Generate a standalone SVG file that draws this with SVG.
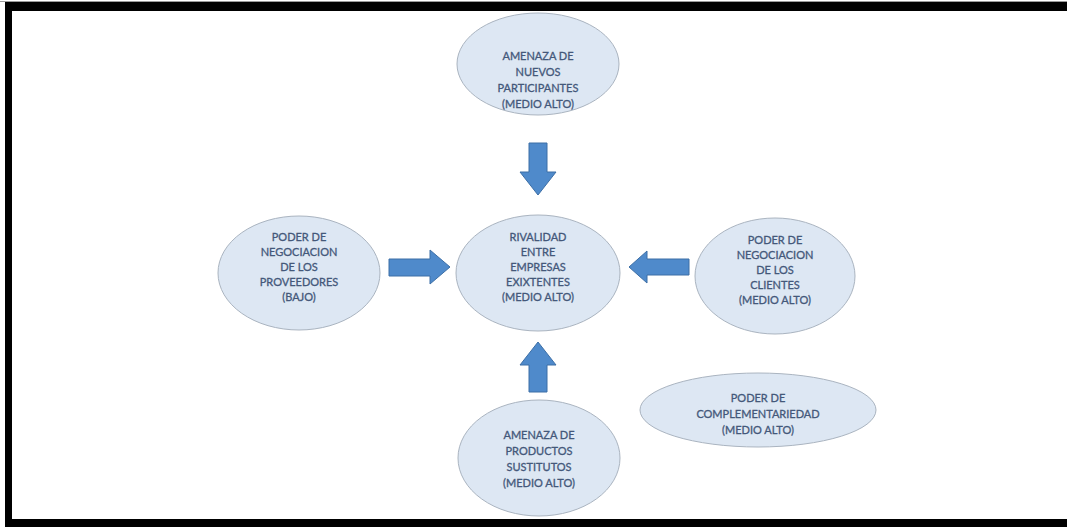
<svg xmlns="http://www.w3.org/2000/svg" width="1067" height="527" viewBox="0 0 1067 527">
  <style>
    .node ellipse { fill: #dde7f3; stroke: #aab4c0; stroke-width: 1; }
    .node text { font-family: Lato, "Open Sans", "Liberation Sans", sans-serif; font-size: 11px; fill: #44587a; stroke: #44587a; stroke-width: 0.3; text-anchor: middle; }
    .arrow { fill: #4f8acb; stroke: #3d6fa6; stroke-width: 1; }
  </style>
  <rect x="0" y="0" width="1067" height="527" fill="#ffffff"/>
  <!-- frame -->
  <rect x="5" y="2" width="1062" height="9" fill="#000000"/>
  <rect x="5" y="2" width="7" height="525" fill="#000000"/>
  <rect x="5" y="519" width="1062" height="8" fill="#000000"/>
  <line x1="0" y1="1.5" x2="1067" y2="1.5" stroke="#9a9a9a" stroke-width="1"/>

  <g id="connectors">
    <!-- down arrow from top -->
    <polygon class="arrow" points="529,143 547,143 547,172 556,172 538,195 520,172 529,172"/>
    <!-- up arrow from bottom -->
    <polygon class="arrow" points="529,392 547,392 547,365 556,365 538,342 520,365 529,365"/>
    <!-- right arrow from left -->
    <polygon class="arrow" points="389,259 430,259 430,250 450,267 430,284 430,276 389,276"/>
    <!-- left arrow from right -->
    <polygon class="arrow" points="689,259 647,259 647,251 629,267 647,283 647,275 689,275"/>
  </g>

  <g id="nuevos" class="node">
    <ellipse cx="538" cy="64" rx="81" ry="51"/>
    <text x="538" y="60">AMENAZA DE</text>
    <text x="538" y="76">NUEVOS</text>
    <text x="538" y="92">PARTICIPANTES</text>
    <text x="538" y="108">(MEDIO ALTO)</text>
  </g>

  <g id="rivalidad" class="node">
    <ellipse cx="538" cy="273" rx="82" ry="58"/>
    <text x="538" y="241">RIVALIDAD</text>
    <text x="538" y="256">ENTRE</text>
    <text x="538" y="271">EMPRESAS</text>
    <text x="538" y="286">EXIXTENTES</text>
    <text x="538" y="301">(MEDIO ALTO)</text>
  </g>

  <g id="proveedores" class="node">
    <ellipse cx="299" cy="273" rx="81" ry="57"/>
    <text x="299" y="241">PODER DE</text>
    <text x="299" y="256">NEGOCIACION</text>
    <text x="299" y="271">DE LOS</text>
    <text x="299" y="286">PROVEEDORES</text>
    <text x="299" y="301">(BAJO)</text>
  </g>

  <g id="clientes" class="node">
    <ellipse cx="775" cy="276" rx="80" ry="58"/>
    <text x="775" y="244">PODER DE</text>
    <text x="775" y="259">NEGOCIACION</text>
    <text x="775" y="274">DE LOS</text>
    <text x="775" y="289">CLIENTES</text>
    <text x="775" y="304">(MEDIO ALTO)</text>
  </g>

  <g id="complementariedad" class="node">
    <ellipse cx="758" cy="410" rx="118" ry="37"/>
    <text x="758" y="402">PODER DE</text>
    <text x="758" y="418">COMPLEMENTARIEDAD</text>
    <text x="758" y="434">(MEDIO ALTO)</text>
  </g>

  <g id="sustitutos" class="node">
    <ellipse cx="539" cy="458" rx="81" ry="58"/>
    <text x="539" y="439">AMENAZA DE</text>
    <text x="539" y="455">PRODUCTOS</text>
    <text x="539" y="471">SUSTITUTOS</text>
    <text x="539" y="487">(MEDIO ALTO)</text>
  </g>
</svg>
